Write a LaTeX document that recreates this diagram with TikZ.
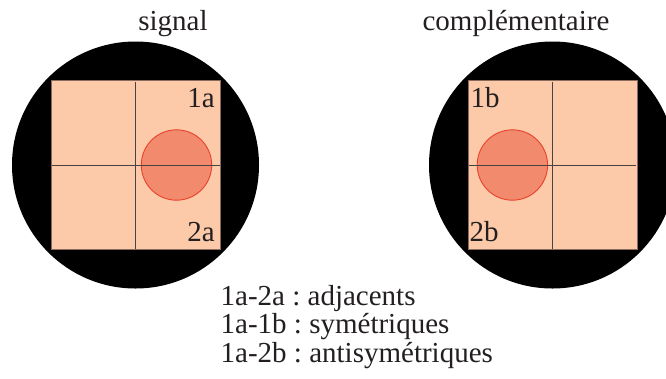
\documentclass[tikz,border=0pt]{standalone}
\usepackage{fontspec}
\setmainfont{Liberation Serif}
\frenchspacing
\definecolor{peach}{HTML}{FCCAA9}
\definecolor{sqedge}{HTML}{8A6A5C}
\definecolor{spotfill}{HTML}{F28A6E}
\definecolor{spotedge}{HTML}{E8412B}
\definecolor{crossc}{HTML}{4A4242}
\definecolor{txt}{HTML}{231F20}
\tikzset{
  disk/.style={fill=black},
  field/.style={fill=peach, draw=sqedge, line width=1pt},
  spot/.style={fill=spotfill, draw=spotedge, line width=0.9pt},
  axis/.style={draw=crossc, line width=1pt},
  lbl/.style={inner sep=0pt, text=txt, font=\fontsize{29}{29}\selectfont},
}
\begin{document}
\begin{tikzpicture}[x=1pt,y=-1pt]
\useasboundingbox (0,0) rectangle (666,378);
% left panel
\fill[disk] (135.5,165) circle[radius=123.5];
\filldraw[field] (51,80.5) rectangle (220.5,249.5);
\filldraw[spot] (176.5,165) circle[radius=35.2];
\coordinate (lh1) at (52,165); \coordinate (lh2) at (219.5,165);
\coordinate (lv1) at (135.7,81.5); \coordinate (lv2) at (135.7,248.5);
\draw[axis] (lh1) -- (lh2);
\draw[axis] (lv1) -- (lv2);
\node[lbl, anchor=base east] (l1a) at (215,107) {1a};
\node[lbl, anchor=base east] (l2a) at (215,241.5) {2a};
\node[lbl, anchor=base] (tsig) at (173,30) {signal};
% right panel
\begin{scope}
\clip (0,0) rectangle (666,378);
\fill[disk] (552.5,165) circle[radius=123.5];
\end{scope}
\filldraw[field] (468,80.5) rectangle (637,249.5);
\filldraw[spot] (512.4,165) circle[radius=35.2];
\coordinate (rh1) at (469,165); \coordinate (rh2) at (636,165);
\coordinate (rv1) at (552.3,81.5); \coordinate (rv2) at (552.3,248.5);
\draw[axis] (rh1) -- (rh2);
\draw[axis] (rv1) -- (rv2);
\node[lbl, anchor=base west] (l1b) at (470.5,107) {1b};
\node[lbl, anchor=base west] (l2b) at (469.5,241.5) {2b};
\node[lbl, anchor=base] (tcomp) at (516,30) {complémentaire};
% legend
\node[lbl, anchor=base west] (leg1) at (220.5,305) {1a-2a : adjacents};
\node[lbl, anchor=base west] (leg2) at (220.5,333.5) {1a-1b : symétriques};
\node[lbl, anchor=base west] (leg3) at (220.5,362) {1a-2b : antisymétriques};
\end{tikzpicture}
\end{document}
